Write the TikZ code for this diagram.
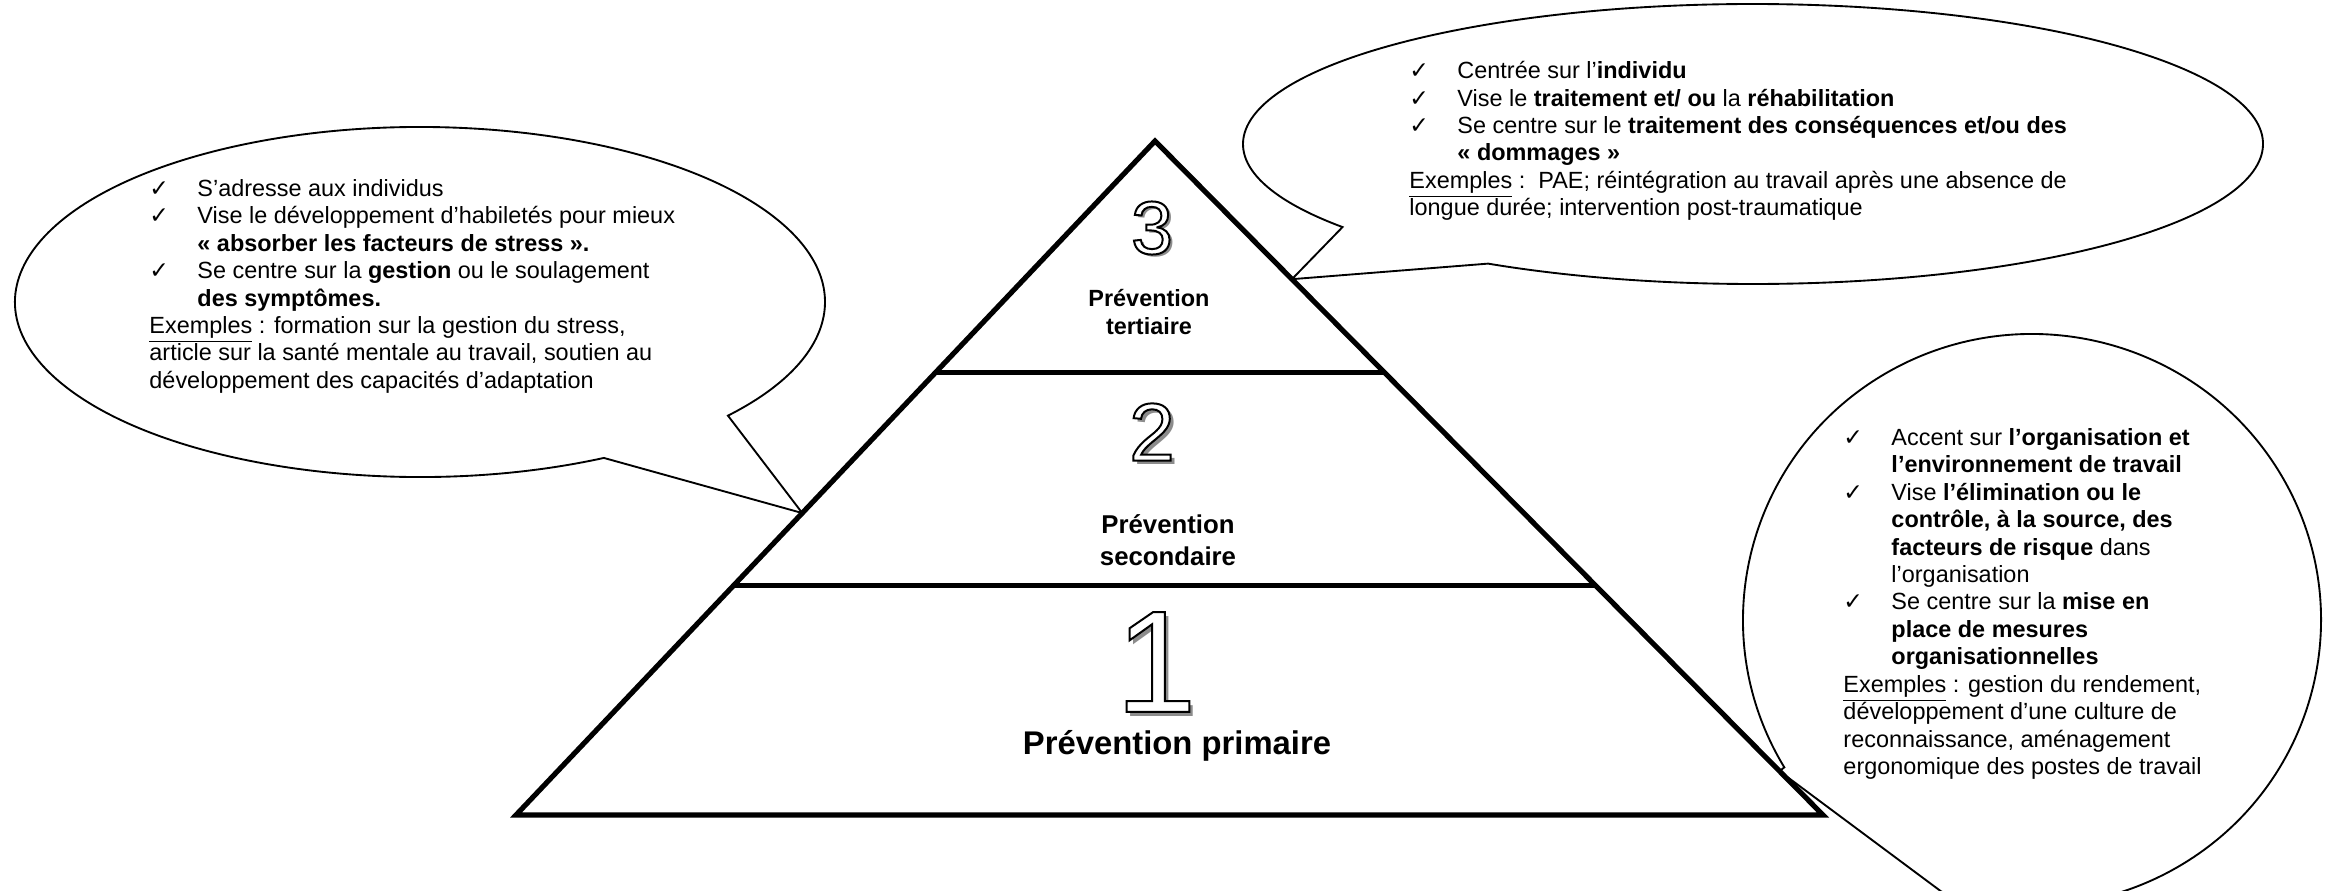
\documentclass[tikz,border=0pt]{standalone}
\usepackage{fontspec}
\setmainfont{Liberation Sans}
\newfontfamily\checkfont{DejaVu Sans}
\usetikzlibrary{calc, positioning}

% outlined glyphs: white fill, black stroke
\newcommand{\outlined}[1]{\special{pdf:literal direct 0 G 0.85 w 2 Tr}#1\special{pdf:literal direct 0 Tr}}
\newlength{\chkw}
\setlength{\chkw}{0.72cm}
\newcommand{\chkitem}{\makebox[\chkw][l]{{\checkfont\fontsize{10}{10}\selectfont ✓}}}
\newcommand{\indt}{\hspace*{\chkw}}

\begin{document}
\begin{tikzpicture}[
    x=0.015cm, y=-0.015cm,
    % --- STYLES ---
    bubble/.style={draw, line width=0.8pt, fill=white},
    pyrline/.style={line width=2.2pt},
    bubtext/.style={anchor=north west, inner sep=0pt, align=left, font=\fontsize{10}{11.7}\selectfont},
    pyrlabel/.style={inner sep=0pt, align=center},
    digit/.style={inner sep=0pt, text=white},
    digitshadow/.style={inner sep=0pt, text=black!45}
]
    \useasboundingbox (0,0) rectangle (2331,890);

    % ==========================================
    % PYRAMID CORNERS AND TAIL TIPS
    % ==========================================
    \coordinate (apex) at (1155,141);
    \coordinate (bl) at (516,815);
    \coordinate (br) at (1823,815);

    \coordinate (ltip) at ($(apex)!0.552!(bl)$);
    \coordinate (ttip) at ($(apex)!0.205!(br)$);
    \coordinate (rtip) at ($(apex)!0.935!(br)$);

    % ==========================================
    % SPEECH BUBBLES
    % ==========================================
    \coordinate (lc) at (420,302);
    \coordinate (tc) at (1753,144);
    \coordinate (rc) at (2032,620);

    \draw[bubble] (lc) ++(63:405 and 175) arc[start angle=63, end angle=400.5, x radius=405, y radius=175] -- (ltip) -- cycle;
    \draw[bubble] (tc) ++(143.6:510 and 140) arc[start angle=143.6, end angle=481.3, x radius=510, y radius=140] -- (ttip) -- cycle;
    \draw[bubble] (rc) ++(149:289 and 286) arc[start angle=149, end angle=468.3, x radius=289, y radius=286] -- (rtip) -- cycle;

    % ==========================================
    % PYRAMID
    % ==========================================
    \draw[pyrline] (apex) -- (bl) -- (br) -- cycle;
    \draw[pyrline] ($(apex)!0.343!(bl)$) -- ($(apex)!0.343!(br)$);
    \draw[pyrline] ($(apex)!0.659!(bl)$) -- ($(apex)!0.659!(br)$);

    % Level numbers (outlined, with shadow)
    \coordinate (c3) at (1152,228);
    \coordinate (c2) at (1152,432);
    \coordinate (c1) at (1156,662);
    \node[digitshadow, font=\fontsize{32}{32}\selectfont] (d3s) at ([shift={(3,3)}]c3) {3};
    \node[digit, font=\fontsize{32}{32}\selectfont] (d3) at (c3) {\outlined{3}};
    \node[digitshadow, font=\fontsize{35}{35}\selectfont] (d2s) at ([shift={(4,4)}]c2) {2};
    \node[digit, font=\fontsize{35}{35}\selectfont] (d2) at (c2) {\outlined{2}};
    \node[digitshadow, font=\fontsize{62}{62}\selectfont] (d1s) at ([shift={(4,5)}]c1) {1};
    \node[digit, font=\fontsize{62}{62}\selectfont] (d1) at (c1) {\outlined{1}};

    % Level names
    \node[pyrlabel, font=\bfseries\fontsize{10}{12}\selectfont] (tert) at (1149,312) {Prévention\\tertiaire};
    \node[pyrlabel, font=\bfseries\fontsize{11}{13.8}\selectfont] (sec) at (1168,540) {Prévention\\secondaire};
    \node[pyrlabel, font=\bfseries\fontsize{14}{16}\selectfont] (prim) at (1177,746) {Prévention primaire};

    % ==========================================
    % BUBBLE TEXTS
    % ==========================================
    \node[bubtext] (ltext) at (149,179) {%
        \chkitem S’adresse aux individus\\
        \chkitem Vise le développement d’habiletés pour mieux\\
        \indt\textbf{« absorber les facteurs de stress ».}\\
        \chkitem Se centre sur la \textbf{gestion} ou le soulagement\\
        \indt\textbf{des symptômes.}\\
        \underline{Exemples} : formation sur la gestion du stress,\\
        article sur la santé mentale au travail, soutien au\\
        développement des capacités d’adaptation};

    \node[bubtext] (ttext) at (1409,61) {%
        \chkitem Centrée sur l’\textbf{individu}\\
        \chkitem Vise le \textbf{traitement et/ ou} la \textbf{réhabilitation}\\
        \chkitem Se centre sur le \textbf{traitement des conséquences et/ou des}\\
        \indt\textbf{« dommages »}\\
        \underline{Exemples} :\ \ PAE; réintégration au travail après une absence de\\
        longue durée; intervention post-traumatique};

    \node[bubtext] (rtext) at (1843,428) {%
        \chkitem Accent sur \textbf{l’organisation et}\\
        \indt\textbf{l’environnement de travail}\\
        \chkitem Vise \textbf{l’élimination ou le}\\
        \indt\textbf{contrôle, à la source, des}\\
        \indt\textbf{facteurs de risque} dans\\
        \indt l’organisation\\
        \chkitem Se centre sur la \textbf{mise en}\\
        \indt\textbf{place de mesures}\\
        \indt\textbf{organisationnelles}\\
        \underline{Exemples} : gestion du rendement,\\
        développement d’une culture de\\
        reconnaissance, aménagement\\
        ergonomique des postes de travail};

\end{tikzpicture}
\end{document}
